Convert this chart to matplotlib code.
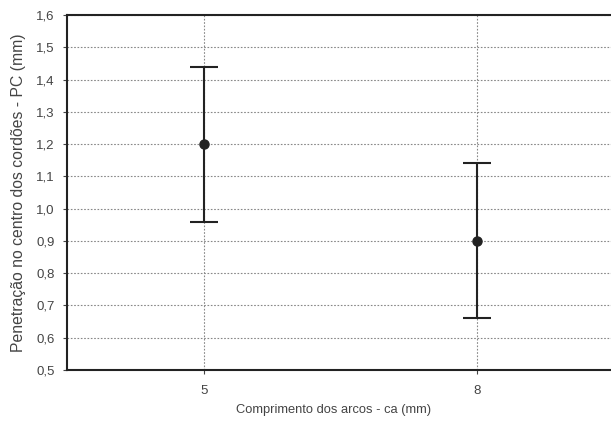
import matplotlib
matplotlib.use("Agg")
import matplotlib.pyplot as plt
from matplotlib.ticker import FuncFormatter, MultipleLocator

# arc length categories and penetration means with interval half-widths
categories = ["5", "8"]
means = [1.20, 0.90]
half_width = [0.24, 0.24]

plt.rcParams["font.family"] = ["Liberation Sans", "DejaVu Sans"]

fig = plt.figure(figsize=(6.11, 4.25), dpi=100)
ax = fig.add_axes([67 / 611, 1 - 370 / 425, (614 - 67) / 611, (370 - 15) / 425])

xpos = list(range(len(categories)))
ax.errorbar(xpos, means, yerr=half_width, fmt="o", color="#222222",
            markersize=6.5, elinewidth=1.5, capsize=10, capthick=1.5, zorder=3)

ax.set_xlim(-0.5, 1.5)
ax.set_ylim(0.5, 1.6)
ax.set_xticks(xpos)
ax.set_xticklabels(categories)
ax.yaxis.set_major_locator(MultipleLocator(0.1))
ax.yaxis.set_major_formatter(FuncFormatter(lambda v, p: f"{v:.1f}".replace(".", ",")))

ax.grid(True, color="#888888", linestyle=(0, (1.5, 1.5)), linewidth=0.8)
ax.set_axisbelow(True)

for side in ["left", "top", "bottom"]:
    ax.spines[side].set_linewidth(1.5)
    ax.spines[side].set_color("#222222")
ax.spines["right"].set_visible(False)

txt = "#444444"
ax.tick_params(axis="both", labelsize=9.5, colors=txt, length=3, width=0.8)
ax.tick_params(axis="y", pad=6)
ax.tick_params(axis="x", pad=8)

ax.set_xlabel("Comprimento dos arcos - ca (mm)", fontsize=9.3, color=txt, labelpad=7)
ax.xaxis.set_label_coords(0.487, -0.095)
ax.set_ylabel("Penetração no centro dos cordões - PC (mm)", fontsize=11.3, color=txt, labelpad=7)

fig.savefig("out.png", dpi=100)
